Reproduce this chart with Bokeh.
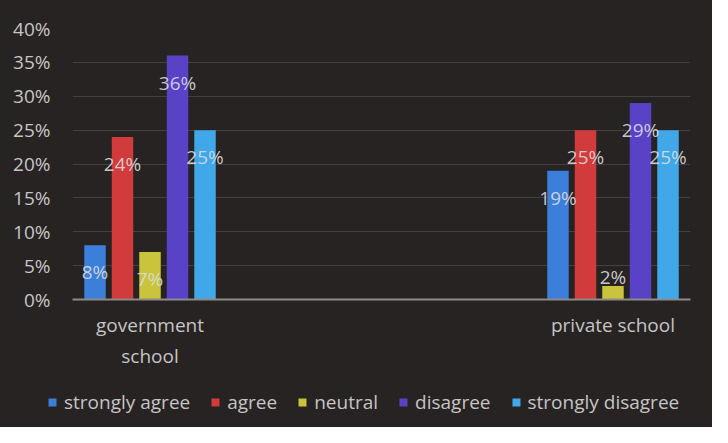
from bokeh.plotting import figure
from bokeh.models import (ColumnDataSource, Range1d, FixedTicker, NumeralTickFormatter,
                          LabelSet, Legend, LegendItem)
from bokeh.core.properties import value
from bokeh.transform import dodge
from bokeh.layouts import column
from bokeh.embed import file_html
from bokeh.resources import INLINE

# ---- data ----
schools = ["government\nschool", "private school"]
responses = ["strongly agree", "agree", "neutral", "disagree", "strongly disagree"]
government = [0.08, 0.24, 0.07, 0.36, 0.25]
private = [0.19, 0.25, 0.02, 0.29, 0.25]
y_ticks = [0.0, 0.05, 0.10, 0.15, 0.20, 0.25, 0.30, 0.35, 0.40]

colors = ["#3c7fda", "#d23b3b", "#c9c43c", "#5a42c6", "#40a8e8"]
FONT = "Open Sans"
FS = "19px"
TXT = "#c6c4c4"
BG = "#272323"

MAIN_H = 385
LEG_H = 427 - MAIN_H

p = figure(width=712, height=MAIN_H, output_backend="svg", toolbar_location=None,
           x_range=Range1d(-0.1674, 1.1674), y_range=Range1d(0, 0.40),
           min_border_left=72, min_border_right=22, min_border_top=28,
           min_border_bottom=MAIN_H - 299, frame_align=False,
           styles={"background-color": BG})
p.background_fill_color = BG
p.border_fill_color = BG
p.outline_line_color = None

group_x = list(range(len(schools)))
step = 0.0594
bar_w = 0.0464

sources = []
for i, resp in enumerate(responses):
    vals = [government[i], private[i]]
    src = ColumnDataSource(dict(
        x=group_x,
        top=vals,
        label=[f"{round(v * 100)}%" for v in vals],
        dy=[-27 if v >= 0.05 else 9 for v in vals],
    ))
    sources.append(src)
    off = (i - 2) * step
    p.vbar(x=dodge("x", off, range=p.x_range), top="top", width=bar_w,
           source=src, fill_color=colors[i], line_color=None)
    labels = LabelSet(x=dodge("x", off, range=p.x_range), y="top", text="label",
                      y_offset="dy", source=src, text_align="center",
                      text_baseline="middle", text_color="#dcdcdc",
                      text_font=value(FONT), text_font_size=FS, text_alpha=0.9)
    p.add_layout(labels)

# axes
p.yaxis.ticker = FixedTicker(ticks=y_ticks)
p.yaxis.formatter = NumeralTickFormatter(format="0%")
p.yaxis.axis_line_color = None
p.yaxis.major_tick_line_color = None
p.yaxis.minor_tick_line_color = None
p.yaxis.major_tick_out = 0
p.yaxis.major_label_standoff = 22
p.yaxis.major_label_text_color = TXT
p.yaxis.major_label_text_font = FONT
p.yaxis.major_label_text_font_size = FS

p.xaxis.ticker = FixedTicker(ticks=group_x)
p.xaxis.major_label_overrides = {i: s for i, s in enumerate(schools)}
p.xaxis.axis_line_color = "#8e8a8a"
p.xaxis.axis_line_width = 2
p.xaxis.major_tick_line_color = None
p.xaxis.minor_tick_line_color = None
p.xaxis.major_tick_out = 0
p.xaxis.major_label_standoff = 12
p.xaxis.major_label_text_color = TXT
p.xaxis.major_label_text_font = FONT
p.xaxis.major_label_text_font_size = FS

p.xgrid.grid_line_color = None
p.ygrid.grid_line_color = "#463f3f"
p.ygrid.grid_line_width = 1

# legend strip (its bars lie outside its visible ranges; only the legend shows)
pl = figure(width=712, height=LEG_H, output_backend="svg", toolbar_location=None,
            x_range=Range1d(50, 51), y_range=Range1d(50, 51), min_border=0,
            frame_align=False, styles={"background-color": BG})
pl.background_fill_color = BG
pl.border_fill_color = BG
pl.outline_line_color = None
pl.axis.visible = False
pl.grid.visible = False

items = []
for i, resp in enumerate(responses):
    r = pl.vbar(x="x", top="top", width=bar_w, source=sources[i],
                fill_color=colors[i], line_color=None)
    items.append(LegendItem(label=resp, renderers=[r]))

legend = Legend(items=items, orientation="horizontal", location=(47, 12),
                background_fill_alpha=0, border_line_color=None, padding=0,
                margin=0, spacing=20, label_standoff=7, glyph_width=10,
                glyph_height=10, label_text_color=TXT,
                label_text_font=FONT, label_text_font_size=FS)
pl.add_layout(legend, "center")

layout = column(p, pl, spacing=0, styles={"background-color": BG})
open("out.html", "w").write(file_html(layout, INLINE))
